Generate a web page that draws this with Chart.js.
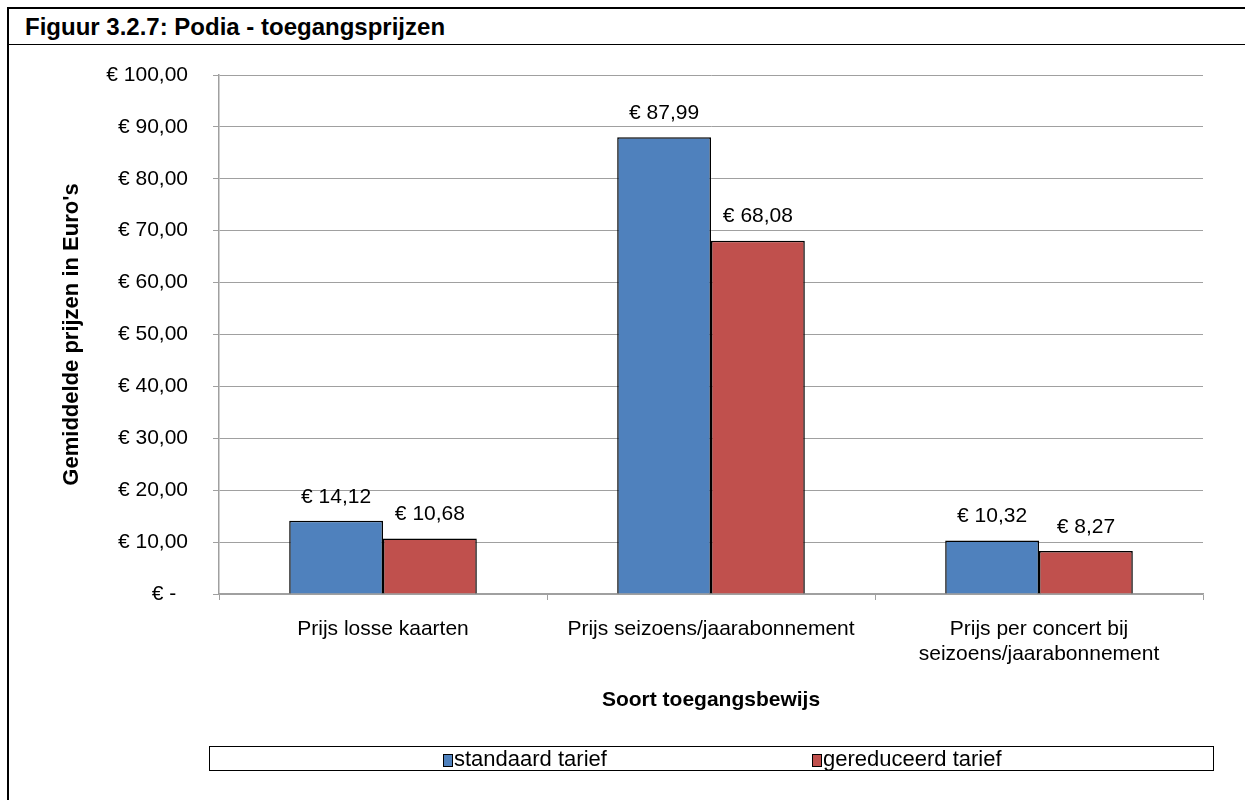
<!DOCTYPE html>
<html>
<head>
<meta charset="utf-8">
<script src="https://cdn.jsdelivr.net/npm/chart.js@4/dist/chart.umd.min.js"></script>
<style>
  body { margin: 0; background: #fff; font-family: Arial, "Liberation Sans", sans-serif; }
  #frame { position: absolute; left: 7px; top: 7px; width: 1260px; height: 820px; border: 2px solid #000; }
  #title { position: absolute; left: 25px; top: 15px; font-weight: bold; font-size: 24px; line-height: 24px; color: #000; }
  #sep { position: absolute; left: 8px; top: 44px; width: 1245px; border-top: 1.5px solid #000; }
  #legend { position: absolute; left: 209px; top: 746px; width: 1003px; height: 23px; border: 1.5px solid #000; }
  .item { position: absolute; top: 0; height: 23px; line-height: 23px; font-size: 22px; color: #000; white-space: nowrap; }
  .item i { display: inline-block; width: 8px; height: 11px; border: 1px solid #000; margin-right: 1px; vertical-align: -1px; }
  #wrap { position: absolute; left: 0; top: 0; width: 1245px; height: 800px; }
</style>
</head>
<body>
<div id="frame"></div>
<div id="title">Figuur 3.2.7: Podia - toegangsprijzen</div>
<div id="sep"></div>
<div id="wrap"><canvas id="chart" width="1245" height="800"></canvas></div>
<div id="legend"></div>
<script>
const categories = ['Prijs losse kaarten', 'Prijs seizoens/jaarabonnement', ['Prijs per concert bij', 'seizoens/jaarabonnement']];
const seriesNames = ['standaard tarief', 'gereduceerd tarief'];
const standaard = [14.12, 87.99, 10.32];
const gereduceerd = [10.68, 68.08, 8.27];
const seriesColors = ['#4f81bd', '#c0504d'];
const legendLeft = [442, 811];

const fontFamily = 'Arial, "Liberation Sans", sans-serif';

function euro(v) {
  if (v === 0) return '€ -\u2007';
  return '€ ' + v.toFixed(2).replace('.', ',');
}

// labels above each bar
const valueLabels = {
  id: 'valueLabels',
  afterDatasetsDraw(chart) {
    const ctx = chart.ctx;
    ctx.save();
    ctx.font = '21px ' + fontFamily;
    ctx.fillStyle = '#000';
    ctx.textAlign = 'center';
    ctx.textBaseline = 'middle';
    chart.data.datasets.forEach((ds, i) => {
      chart.getDatasetMeta(i).data.forEach((bar, j) => {
        ctx.fillText(euro(ds.data[j]), bar.x, bar.y - 24);
      });
    });
    ctx.restore();
  }
};

const gridColor = '#a0a0a0';

new Chart(document.getElementById('chart'), {
  type: 'bar',
  data: {
    labels: categories,
    datasets: [
      { label: seriesNames[0], data: standaard, backgroundColor: seriesColors[0], borderColor: '#000', borderWidth: 1.5 },
      { label: seriesNames[1], data: gereduceerd, backgroundColor: seriesColors[1], borderColor: '#000', borderWidth: 1.5 }
    ]
  },
  options: {
    responsive: false,
    animation: false,
    datasets: { bar: { categoryPercentage: 0.572, barPercentage: 1 } },
    layout: { padding: { left: 56, right: 42, top: 75, bottom: 87 } },
    plugins: { legend: { display: false }, tooltip: { enabled: false } },
    scales: {
      x: {
        afterFit(scale) { scale.height = 119; },
        grid: { drawOnChartArea: false, drawTicks: true, tickLength: 6, color: gridColor, offset: true },
        border: { color: gridColor, width: 1.5 },
        ticks: { color: '#000', padding: 17, maxRotation: 0, autoSkip: false,
          font: { family: fontFamily, size: 21, lineHeight: 25 / 21 } },
        title: { display: true, text: 'Soort toegangsbewijs', color: '#000', padding: { top: 0, bottom: 0 },
          font: { family: fontFamily, size: 21, weight: 'bold' } }
      },
      y: {
        min: 0, max: 100,
        afterFit(scale) { scale.width = 163; },
        grid: { color: gridColor, lineWidth: 1, tickLength: 6 },
        border: { color: gridColor, width: 1.5 },
        ticks: { stepSize: 10, color: '#000', padding: 25, callback: v => euro(v),
          font: { family: fontFamily, size: 21 } },
        title: { display: true, text: "Gemiddelde prijzen in Euro's", color: '#000', padding: { top: 3, bottom: 0 },
          font: { family: fontFamily, size: 22, weight: 'bold' } }
      }
    }
  },
  plugins: [valueLabels]
});

const legend = document.getElementById('legend');
seriesNames.forEach((name, i) => {
  const el = document.createElement('div');
  el.className = 'item';
  el.style.left = (legendLeft[i] - 209) + 'px';
  const sw = document.createElement('i');
  sw.style.background = seriesColors[i];
  el.appendChild(sw);
  el.appendChild(document.createTextNode(name));
  legend.appendChild(el);
});
</script>
</body>
</html>
